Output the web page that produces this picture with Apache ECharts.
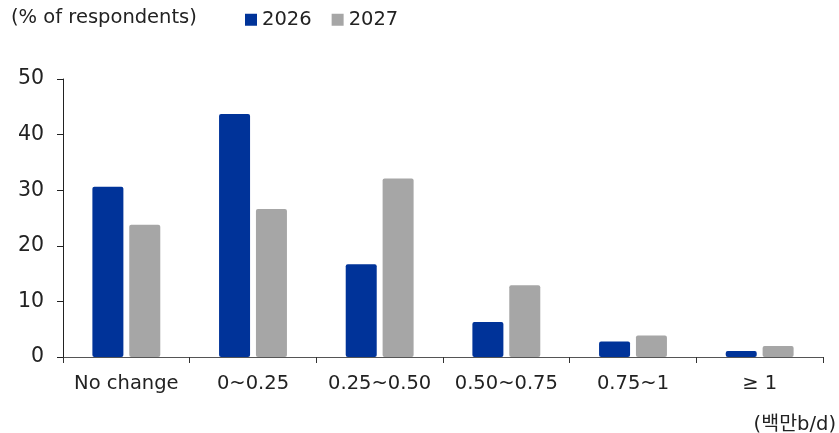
<!DOCTYPE html>
<html><head><meta charset="utf-8">
<script src="https://cdn.jsdelivr.net/npm/echarts@6/dist/echarts.min.js"></script>
<style>html,body{margin:0;padding:0;background:#fff}#c{width:839px;height:433px}</style>
</head><body><div id="c"></div>
<script>
const categories = ['No change', '0~0.25', '0.25~0.50', '0.50~0.75', '0.75~1', '\u2265 1'];
const values2026 = [30.6, 43.7, 16.7, 6.3, 2.8, 1.1];
const values2027 = [23.8, 26.6, 32.1, 12.9, 3.85, 2.0];
const yTicks = [0, 10, 20, 30, 40, 50];

const FONT = '"DejaVu Sans", "Noto Sans CJK KR", sans-serif';
const FS = 19.5;
const chart = echarts.init(document.getElementById('c'), null, {renderer: 'canvas'});
chart.setOption({
  animation: false,
  textStyle: {fontFamily: FONT},
  grid: {left: 63, right: 16, top: 79, bottom: 76, containLabel: false},
  legend: {
    left: 240, top: 5, itemWidth: 12, itemHeight: 12, itemGap: 20,
    textStyle: {fontSize: FS, color: '#222', fontFamily: FONT},
    icon: 'rect',
    data: ['2026', '2027']
  },
  graphic: [
    {type: 'text', left: 11, top: 8, style: {text: '(% of respondents)', fontSize: FS, fill: '#222', fontFamily: FONT}},
    {type: 'text', right: 3, top: 415, style: {text: '(백만b/d)', fontSize: FS, fill: '#222', fontFamily: FONT}}
  ],
  xAxis: {
    type: 'category', data: categories,
    axisLine: {lineStyle: {color: '#555', width: 1}},
    axisTick: {show: true, length: 6, lineStyle: {color: '#333'}},
    axisLabel: {fontSize: FS, color: '#222', margin: 17, interval: 0, fontFamily: FONT}
  },
  yAxis: {
    type: 'value', min: yTicks[0], max: yTicks[yTicks.length - 1], interval: 10,
    splitLine: {show: false},
    axisLine: {show: true, lineStyle: {color: '#222'}},
    axisTick: {show: true, length: 6, lineStyle: {color: '#222'}},
    axisLabel: {fontSize: 20.5, color: '#222', margin: 19, fontFamily: FONT}
  },
  series: [
    {name: '2026', type: 'bar', data: values2026, barWidth: 31, barGap: '19%',
     itemStyle: {color: '#003399', borderRadius: 2}},
    {name: '2027', type: 'bar', data: values2027, barWidth: 31,
     itemStyle: {color: '#A6A6A6', borderRadius: 2}}
  ]
});
</script></body></html>
